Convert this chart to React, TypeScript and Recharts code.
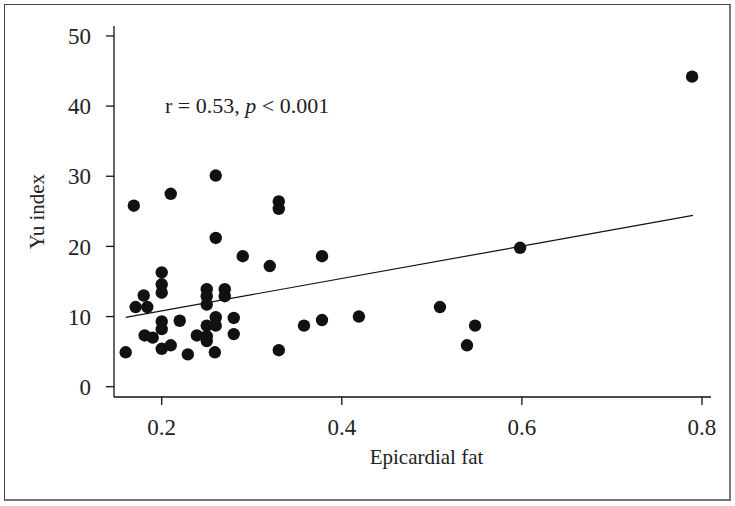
import React from 'react';
import { ScatterChart, Scatter, XAxis, YAxis, ReferenceLine, ReferenceDot } from 'recharts';

const epicardialFat = [
  0.16, 0.169, 0.171, 0.18, 0.184, 0.181, 0.19, 0.2, 0.2, 0.2, 0.2, 0.2, 0.2, 0.21, 0.21, 0.22,
  0.229, 0.239, 0.25, 0.25, 0.25, 0.25, 0.25, 0.25, 0.26, 0.26, 0.26, 0.26, 0.259, 0.27, 0.27,
  0.28, 0.28, 0.29, 0.32, 0.33, 0.33, 0.33, 0.358, 0.378, 0.378, 0.419, 0.509, 0.539, 0.548,
  0.598, 0.789,
];
const yuIndex = [
  4.9, 25.8, 11.35, 13.0, 11.35, 7.3, 7.0, 16.3, 14.6, 13.4, 9.3, 8.2, 5.4, 5.9, 27.5, 9.4,
  4.6, 7.3, 13.9, 12.9, 11.7, 8.7, 7.2, 6.5, 30.1, 21.2, 9.9, 8.7, 4.9, 13.9, 12.9,
  9.8, 7.5, 18.6, 17.2, 26.4, 25.35, 5.2, 8.7, 18.6, 9.5, 10.0, 11.35, 5.9, 8.7,
  19.8, 44.2,
];
const xTicks = [0.2, 0.4, 0.6, 0.8];
const yTicks = [0, 10, 20, 30, 40, 50];
const fitX = [0.16, 0.79];
const fitY = [9.89, 24.42];
const annotationAt = [0.2037, 39.0];

const data = epicardialFat.map((x, i) => ({ x, y: yuIndex[i] }));

const FONT = "'Liberation Serif', 'DejaVu Serif', serif";
const INK = '#111';

const renderDot = (props: any) => (
  <circle cx={props.cx} cy={props.cy} r={6.2} fill={INK} />
);

export default function App() {
  return (
    <div style={{ position: 'absolute', left: 0, top: 0, width: 735, height: 506, background: '#fff' }}>
      <div
        style={{
          position: 'absolute',
          left: 4,
          top: 4,
          width: 724,
          height: 494,
          borderLeft: '1.5px solid #444',
          borderTop: '1.5px solid #444',
          borderRight: '2px solid #777',
          borderBottom: '2px solid #777',
        }}
      />
      <div style={{ position: 'absolute', left: 0, top: 0 }}>
        <ScatterChart width={735} height={506} margin={{ top: 26, right: 24, left: 0, bottom: 0 }}>
          <XAxis
            dataKey="x"
            type="number"
            domain={[0.147, 0.81]}
            allowDataOverflow
            ticks={xTicks}
            height={109}
            tickSize={8}
            tickMargin={14}
            axisLine={{ stroke: INK, strokeWidth: 1.3 }}
            tickLine={{ stroke: INK, strokeWidth: 1.3 }}
            tick={{ fill: '#222', fontSize: 23, fontFamily: FONT }}
            label={{
              content: (p: any) => {
                const vb = p.viewBox || { x: 114, width: 597 };
                return (
                  <text
                    x={vb.x + vb.width / 2 + 14}
                    y={464}
                    textAnchor="middle"
                    fill="#222"
                    fontSize={21}
                    fontFamily={FONT}
                  >
                    Epicardial fat
                  </text>
                );
              },
            }}
          />
          <YAxis
            dataKey="y"
            type="number"
            domain={[-1.47, 51.42]}
            allowDataOverflow
            ticks={yTicks}
            width={114}
            tickSize={8}
            tickMargin={15}
            axisLine={{ stroke: INK, strokeWidth: 1.3 }}
            tickLine={{ stroke: INK, strokeWidth: 1.3 }}
            tick={{ fill: '#222', fontSize: 23, fontFamily: FONT }}
            label={{
              content: (p: any) => {
                const vb = p.viewBox || { y: 26, height: 371 };
                const cy = vb.y + vb.height / 2;
                return (
                  <text
                    x={44}
                    y={cy}
                    transform={`rotate(-90 44 ${cy})`}
                    textAnchor="middle"
                    fill="#222"
                    fontSize={21}
                    fontFamily={FONT}
                  >
                    Yu index
                  </text>
                );
              },
            }}
          />
          <ReferenceLine
            segment={[
              { x: fitX[0], y: fitY[0] },
              { x: fitX[1], y: fitY[1] },
            ]}
            stroke={INK}
            strokeWidth={1.2}
            ifOverflow="visible"
          />
          <ReferenceDot
            x={annotationAt[0]}
            y={annotationAt[1]}
            r={0}
            fill="none"
            stroke="none"
            ifOverflow="visible"
            label={{
              content: (p: any) => {
                const vb = p.viewBox || { x: 165, y: 113 };
                return (
                  <text x={vb.x} y={vb.y} fill="#222" fontSize={22} fontFamily={FONT}>
                    r = 0.53, <tspan fontStyle="italic">p</tspan> &lt; 0.001
                  </text>
                );
              },
            }}
          />
          <Scatter data={data} isAnimationActive={false} shape={renderDot} />
        </ScatterChart>
      </div>
    </div>
  );
}
